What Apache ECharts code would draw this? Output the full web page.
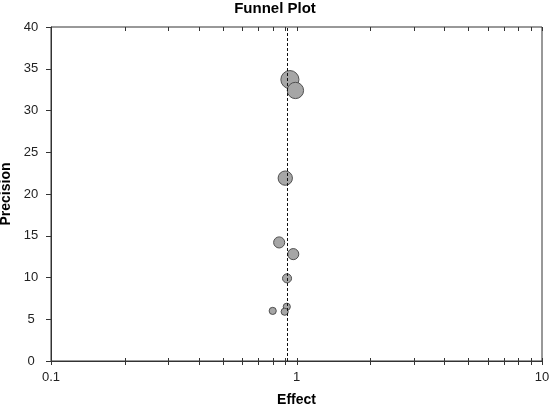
<!DOCTYPE html>
<html>
<head>
<meta charset="utf-8">
<script src="https://cdn.jsdelivr.net/npm/echarts@6/dist/echarts.min.js"></script>
<style>html,body{margin:0;padding:0;background:#fff}#c{width:550px;height:407px}</style>
</head>
<body>
<div id="c"></div>
<script>
// Data
const effect    = [0.94, 0.99, 0.90, 0.85, 0.97, 0.915, 0.80, 0.913, 0.895];
const precision = [33.7, 32.4, 21.9, 14.2, 12.8, 9.9, 6.0, 6.5, 5.9];
const weight    = [32, 26, 20, 12, 12, 8, 5, 5, 5];
const pooledEffect = 0.917;
const xTickValues = [0.1,0.2,0.3,0.4,0.5,0.6,0.7,0.8,0.9,1,2,3,4,5,6,7,8,9,10];
const xLabels = [0.1, 1, 10];
const yMin = 0, yMax = 40, yStep = 5;

const FONT = '"Liberation Sans", Arial, sans-serif';
const chart = echarts.init(document.getElementById('c'), null, {renderer:'canvas'});

const points = effect.map((e, i) => [e, precision[i], weight[i]]);

chart.setOption({
  animation: false,
  backgroundColor: '#fff',
  title: {
    text: 'Funnel Plot', left: 'center', top: 1, padding: 0,
    textStyle: {fontFamily: FONT, fontSize: 15, fontWeight: 'bold', color: '#000'}
  },
  grid: {left: 51, right: 8, top: 27, bottom: 46, containLabel: false, outerBoundsMode: 'none',
         show: true, borderColor: '#333', borderWidth: 1, backgroundColor: 'transparent'},
  xAxis: {
    type: 'log', logBase: 10, min: 0.1, max: 10,
    name: 'Effect', nameLocation: 'middle', nameGap: 32,
    nameTextStyle: {fontFamily: FONT, fontSize: 14, fontWeight: 'bold', color: '#000'},
    axisLine: {show: true, lineStyle: {color: '#333', width: 1}},
    axisTick: {show: false},
    splitLine: {show: false},
    axisLabel: {
      fontFamily: FONT, fontSize: 13, color: '#222', margin: 10,
      formatter: v => (xLabels.some(l => Math.abs(l - v) < 1e-9) ? String(v) : '')
    }
  },
  yAxis: {
    type: 'value', min: yMin, max: yMax, interval: yStep,
    name: 'Precision', nameLocation: 'middle', nameGap: 36, nameRotate: 90,
    nameTextStyle: {fontFamily: FONT, fontSize: 14, fontWeight: 'bold', color: '#000'},
    axisLine: {show: true, lineStyle: {color: '#333', width: 1}},
    axisTick: {show: true, inside: false, length: 5, lineStyle: {color: '#333'}},
    splitLine: {show: false},
    axisLabel: {fontFamily: FONT, fontSize: 13, color: '#222', margin: 20, align: 'center'}
  },
  series: [
    {
      type: 'custom',
      coordinateSystem: 'cartesian2d',
      clip: false,
      silent: true,
      z: 5,
      data: xTickValues.map(v => [v, yMin]),
      renderItem: function (params, api) {
        const v = api.value(0);
        const pb = api.coord([v, yMin]);
        const pt = api.coord([v, yMax]);
        const x = Math.round(pb[0]) + 0.5;
        return {
          type: 'group',
          children: [
            {type: 'line', shape: {x1: x, y1: pb[1] - 3, x2: x, y2: pb[1] + 4}, style: {stroke: '#333', lineWidth: 1}},
            {type: 'line', shape: {x1: x, y1: pt[1], x2: x, y2: pt[1] + 4}, style: {stroke: '#333', lineWidth: 1}}
          ]
        };
      }
    },
    {
      type: 'scatter',
      data: points,
      symbol: 'circle',
      symbolSize: d => 3.2 * Math.sqrt(d[2]),
      itemStyle: {color: '#a6a6a6', borderColor: '#505050', borderWidth: 1, opacity: 1},
      z: 3,
      markLine: {
        silent: true,
        symbol: ['none', 'none'],
        label: {show: false},
        lineStyle: {color: '#111', width: 1, type: [3, 2]},
        data: [{xAxis: pooledEffect}],
        z: 10
      }
    }
  ]
});
</script>
</body>
</html>
